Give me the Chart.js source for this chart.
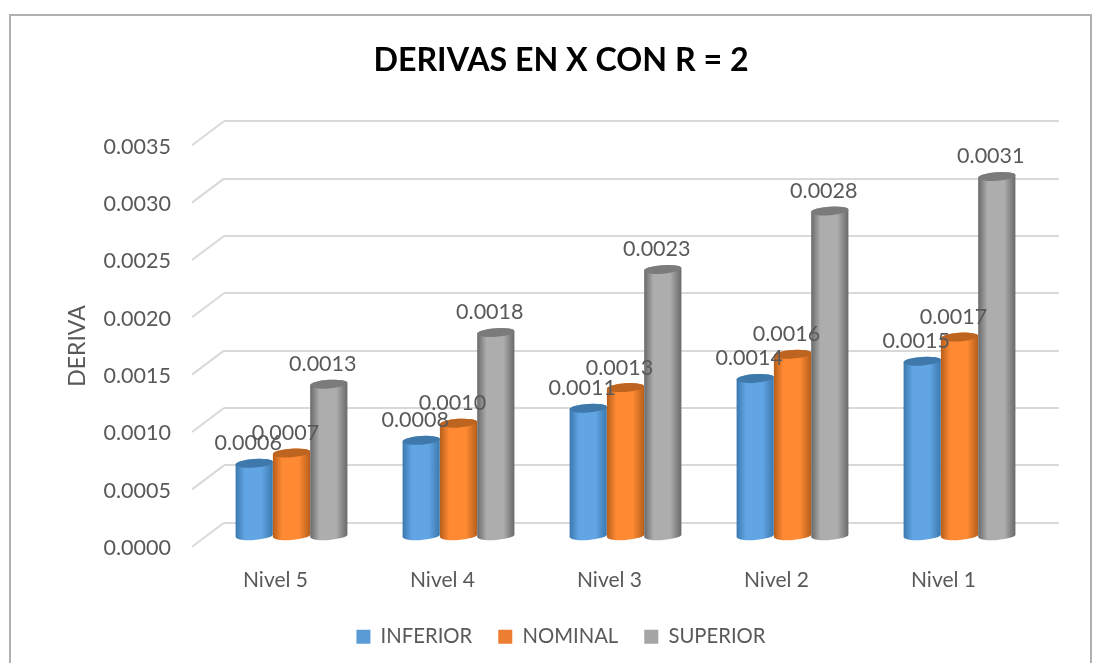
<!DOCTYPE html>
<html>
<head>
<meta charset="utf-8">
<title>Derivas en X</title>
<script src="https://cdn.jsdelivr.net/npm/chart.js@4/dist/chart.umd.min.js"></script>
<style>
  html, body { margin: 0; padding: 0; background: #fff; overflow: hidden; }
  #frame { position: absolute; left: 9px; top: 14px; width: 1079px; height: 700px; border: 2px solid #b0b0b0; }
  #chart { position: absolute; left: 0; top: 0; }
</style>
</head>
<body>
<div id="frame"></div>
<canvas id="chart" width="1098" height="663"></canvas>
<script>
const categories = ['Nivel 5', 'Nivel 4', 'Nivel 3', 'Nivel 2', 'Nivel 1'];
const inferior = [0.00064, 0.00084, 0.00112, 0.00138, 0.00153];
const nominal = [0.00073, 0.00099, 0.00130, 0.00159, 0.00174];
const superior = [0.00133, 0.00178, 0.00233, 0.00284, 0.00314];

const FONT = 'Lato, "Open Sans", sans-serif';
const TEXT = '#595959';
const GRID = '#d9d9d9';

// front edge of the floor sits this far from the back wall
const DEPTH_X = 32;
const DEPTH_Y = 24;

// edge / middle shades for the cylinders, top is the cap colour
const shades = [
  { edge: '#3a78ae', mid: '#62a5e4', top: '#3f78aa' },
  { edge: '#b65e1b', mid: '#ff8a33', top: '#bd6420' },
  { edge: '#696969', mid: '#adadad', top: '#7b7b7b' }
];

function drawCylinder(ctx, bar, shade) {
  const rx = bar.width / 2;
  const ry = 4.3;
  const tilt = -0.07;
  const cx = bar.x - DEPTH_X / 2;
  const topY = bar.y + 14;
  const baseY = bar.base + 14;

  const grad = ctx.createLinearGradient(cx - rx, 0, cx + rx, 0);
  grad.addColorStop(0, shade.edge);
  grad.addColorStop(0.25, shade.mid);
  grad.addColorStop(0.7, shade.mid);
  grad.addColorStop(1, shade.edge);

  ctx.beginPath();
  ctx.ellipse(cx, baseY, rx, ry, tilt, 0, Math.PI);
  ctx.ellipse(cx, topY, rx, ry, tilt, Math.PI, Math.PI * 2);
  ctx.closePath();
  ctx.fillStyle = grad;
  ctx.fill();

  ctx.beginPath();
  ctx.ellipse(cx, topY, rx, ry, tilt, 0, Math.PI * 2);
  ctx.fillStyle = shade.top;
  ctx.fill();
}

// 3D look: side grid lines, cylinders, value labels, axis title
const cylinderPlugin = {
  id: 'cylinders',
  beforeDatasetsDraw(chart) {
    const ctx = chart.ctx;
    const yScale = chart.scales.y;
    const left = chart.chartArea.left;

    ctx.save();
    ctx.strokeStyle = GRID;
    ctx.lineWidth = 2;
    yScale.ticks.forEach(tick => {
      const y = yScale.getPixelForValue(tick.value);
      ctx.beginPath();
      ctx.moveTo(left, y);
      ctx.lineTo(left - DEPTH_X, y + DEPTH_Y);
      ctx.stroke();
    });

    chart.data.datasets.forEach((ds, i) => {
      chart.getDatasetMeta(i).data.forEach(bar => drawCylinder(ctx, bar, shades[i]));
    });

    ctx.font = '21.5px ' + FONT;
    ctx.fillStyle = TEXT;
    ctx.textAlign = 'center';
    ctx.textBaseline = 'middle';
    chart.data.datasets.forEach((ds, i) => {
      chart.getDatasetMeta(i).data.forEach((bar, j) => {
        ctx.fillText(ds.data[j].toFixed(4), bar.x - DEPTH_X / 2 - 6, bar.y - 6);
      });
    });

    ctx.translate(78, 346);
    ctx.rotate(-Math.PI / 2);
    ctx.font = '23px ' + FONT;
    ctx.fillText('DERIVA', 0, 0);
    ctx.restore();

    return false; // native bars are replaced by the cylinders
  }
};

new Chart(document.getElementById('chart'), {
  type: 'bar',
  data: {
    labels: categories,
    datasets: [
      { label: 'INFERIOR', data: inferior, backgroundColor: '#5b9bd5', borderWidth: 0 },
      { label: 'NOMINAL', data: nominal, backgroundColor: '#ed7d31', borderWidth: 0 },
      { label: 'SUPERIOR', data: superior, backgroundColor: '#a5a5a5', borderWidth: 0 }
    ]
  },
  options: {
    responsive: false,
    animation: false,
    layout: { padding: { left: 63, right: 39, top: 41, bottom: 6 } },
    datasets: { bar: { categoryPercentage: 0.67, barPercentage: 1 } },
    plugins: {
      title: {
        display: true,
        text: 'DERIVAS EN X CON R = 2',
        color: '#000000',
        font: { family: FONT, size: 32.2, weight: 'bold' },
        padding: { top: 0, bottom: 41.6 }
      },
      legend: {
        position: 'bottom',
        labels: {
          color: TEXT,
          font: { family: FONT, size: 20.3 },
          boxWidth: 14,
          boxHeight: 14,
          padding: 26
        }
      },
      tooltip: { enabled: false }
    },
    scales: {
      x: {
        afterFit(scale) { scale.height = 78; },
        grid: { display: false },
        border: { display: false },
        ticks: {
          color: TEXT,
          font: { family: FONT, size: 21 },
          padding: 37,
          labelOffset: -DEPTH_X,
          maxRotation: 0,
          autoSkip: false
        }
      },
      y: {
        min: 0,
        max: 0.0035,
        afterFit(scale) { scale.width = 161; },
        grid: { color: GRID, lineWidth: 2, drawTicks: false },
        border: { display: false },
        ticks: {
          stepSize: 0.0005,
          color: TEXT,
          font: { family: FONT, size: 21.5 },
          padding: 53,
          labelOffset: DEPTH_Y + 1.5,
          callback: value => value.toFixed(4)
        }
      }
    }
  },
  plugins: [cylinderPlugin]
});
</script>
</body>
</html>
